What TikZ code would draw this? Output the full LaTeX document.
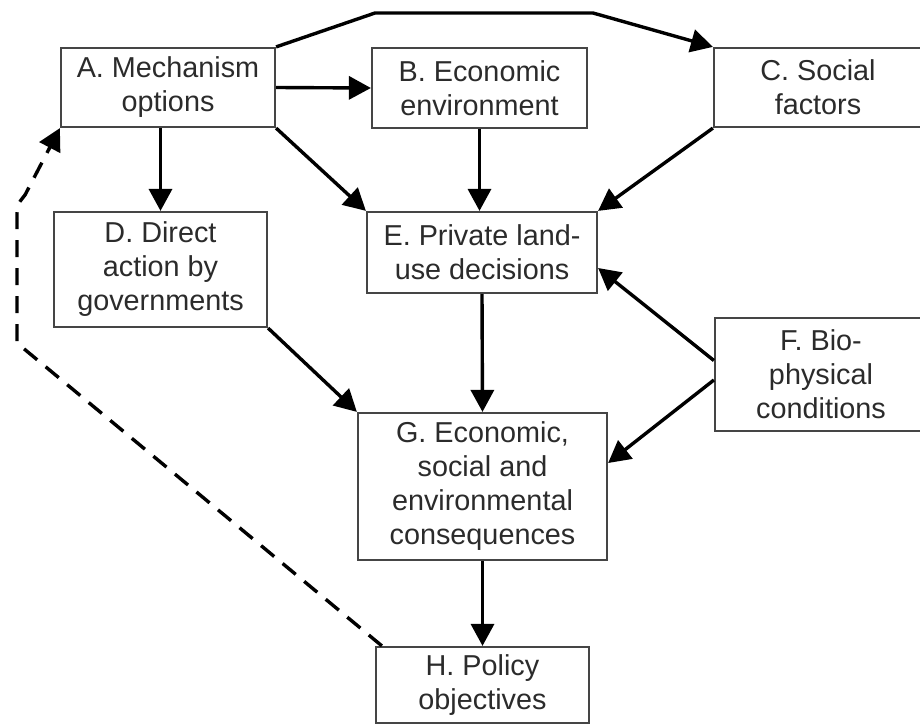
\documentclass[tikz,border=0pt]{standalone}
\usepackage{fontspec}
\setmainfont{Liberation Sans}
\usetikzlibrary{arrows.meta}
\definecolor{boxline}{HTML}{454545}
\definecolor{boxtext}{HTML}{2B2B2B}
\begin{document}
\begin{tikzpicture}[
    x=1pt,y=-1pt,
    box/.style={draw=boxline,line width=2.2pt,inner sep=0pt,align=center,
        text=boxtext,font=\fontsize{28.8}{34}\selectfont},
    link/.style={line width=3.4pt,-{Triangle[length=22pt,width=23pt]}},
    feedback/.style={link,dash pattern=on 17pt off 11pt}
]
\useasboundingbox (0,0) rectangle (920,725);
\clip (0,0) rectangle (920,725);

\node[box,minimum width=214pt,minimum height=79pt] (mech) at (168,87.5) {A. Mechanism\\options};
\node[box,minimum width=215pt,minimum height=80pt] (econ) at (479.5,88) {B. Economic\\environment};
\node[box,minimum width=208pt,minimum height=79pt] (social) at (818,87.5) {C. Social\\factors};
\node[box,minimum width=213pt,minimum height=115pt] (direct) at (160.5,269.5) {D. Direct\\action by\\governments};
\node[box,minimum width=230pt,minimum height=81pt] (private) at (482,252.5) {E. Private land-\\use decisions};
\node[box,minimum width=212pt,minimum height=113pt] (bio) at (821,374.5) {F. Bio-\\physical\\conditions};
\node[box,minimum width=249pt,minimum height=147pt] (conseq) at (482.5,486.5) {G. Economic,\\social and\\environmental\\consequences};
\node[box,minimum width=213pt,minimum height=76pt] (policy) at (482.5,685) {H. Policy\\objectives};

\coordinate (topleft) at (375,13);
\coordinate (topright) at (593,13);
\coordinate (fbbottom) at (17,343);
\coordinate (fbtop) at (17,218);
\coordinate (fbbend) at (25,195);

\draw[link] (mech.east) -- (econ.west);
\draw[link] (mech.north east) -- (topleft) -- (topright) -- (social.north west);
\draw[link] (mech.south -| direct.north) -- (direct.north);
\draw[link] (mech.south east) -- (private.north west);
\draw[link] (econ.south) -- (econ.south |- private.north);
\draw[link] (social.south west) -- (private.north east);
\draw[link] ([yshift=14pt]bio.west) -- ([yshift=-15.5pt]private.east);
\draw[link] ([yshift=-5.5pt]bio.west) -- ([yshift=23.5pt]conseq.east);
\draw[link] (direct.south east) -- (conseq.north west);
\draw[link] (private.south) -- (conseq.north);
\draw[link] (conseq.south) -- (policy.north);

% feedback from objectives to mechanisms
\draw[feedback] ([xshift=7pt]policy.north west) -- (fbbottom) -- (fbtop)
    .. controls (17,205) .. (fbbend) -- (mech.south west);
\end{tikzpicture}
\end{document}
